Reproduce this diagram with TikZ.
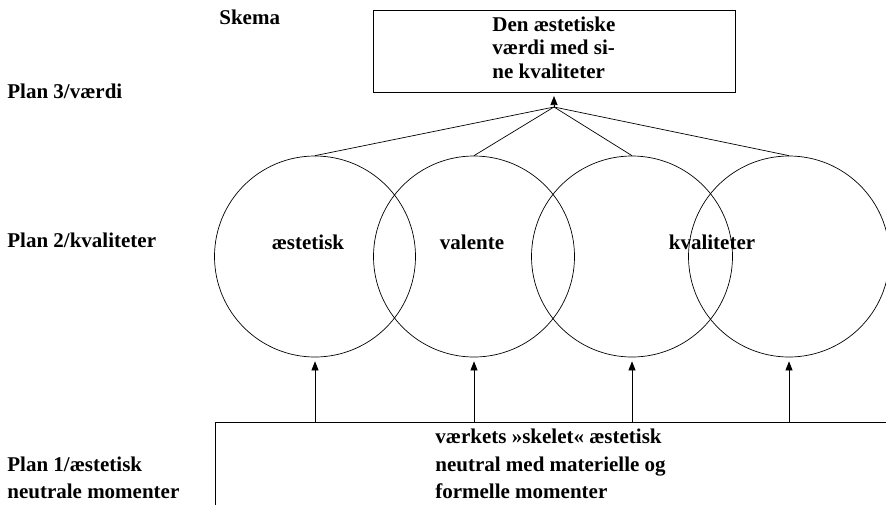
\documentclass[tikz,border=0pt]{standalone}
\usepackage{fontspec}
\setmainfont{Liberation Serif}
\usetikzlibrary{arrows.meta}
\begin{document}
\begin{tikzpicture}[x=1pt,y=-1pt, line width=0.7pt,
  lbl/.style={font=\fontsize{21}{24}\selectfont\bfseries, inner sep=0pt, anchor=base west},
  clbl/.style={font=\fontsize{21}{24}\selectfont\bfseries, inner sep=0pt, anchor=base},
  ring/.style={draw, circle, minimum size=201pt, inner sep=0pt},
  tip/.style={-{Triangle[length=9pt,width=7pt]}},
]
\clip (0,0) rectangle (886,504);
\fill[white] (0,0) rectangle (886,504);
% left labels
\node[lbl] (skema) at (219,24) {Skema};
\node[lbl] (p3) at (7,98) {Plan 3/værdi};
\node[lbl] (p2) at (7,247) {Plan 2/kvaliteter};
\node[lbl] (p1a) at (7,471) {Plan 1/æstetisk};
\node[lbl] (p1b) at (7,498) {neutrale momenter};
% top box
\node[draw, minimum width=362pt, minimum height=82pt, anchor=north west, inner sep=0pt] (top) at (373,10) {};
\node[lbl] (t1) at (492,31) {Den æstetiske};
\node[lbl] (t2) at (492,54.5) {værdi med si-};
\node[lbl] (t3) at (492,78) {ne kvaliteter};
\coordinate (apex) at (554,107);
\coordinate (apextip) at (554,96);
% circles
\node[ring] (c1) at (315,256.5) {};
\node[ring] (c2) at (474,256.5) {};
\node[ring] (c3) at (632,256.5) {};
\node[ring] (c4) at (789,256.5) {};
\node[clbl] (l1) at (308,249) {æstetisk};
\node[clbl] (l2) at (472,249) {valente};
\node[clbl] (l3) at (712,249) {kvaliteter};
% connectors to apex
\draw (c1.north) -- (apex);
\draw (c2.north) -- (apex);
\draw (c3.north) -- (apex);
\draw (c4.north) -- (apex);
\draw[tip] (apex) -- (apextip);
% bottom box
\node[draw, anchor=north west, minimum width=700pt, minimum height=120pt, inner sep=0pt] (base) at (215,422) {};
\node[lbl] (b1) at (435,443) {værkets »skelet« æstetisk};
\node[lbl] (b2) at (435,471) {neutral med materielle og};
\node[lbl] (b3) at (435,498) {formelle momenter};
% arrows up
\draw[tip, shorten >=4pt] (base.north -| c1.south) -- (c1.south);
\draw[tip, shorten >=4pt] (base.north -| c2.south) -- (c2.south);
\draw[tip, shorten >=4pt] (base.north -| c3.south) -- (c3.south);
\draw[tip, shorten >=4pt] (base.north -| c4.south) -- (c4.south);
\end{tikzpicture}
\end{document}
